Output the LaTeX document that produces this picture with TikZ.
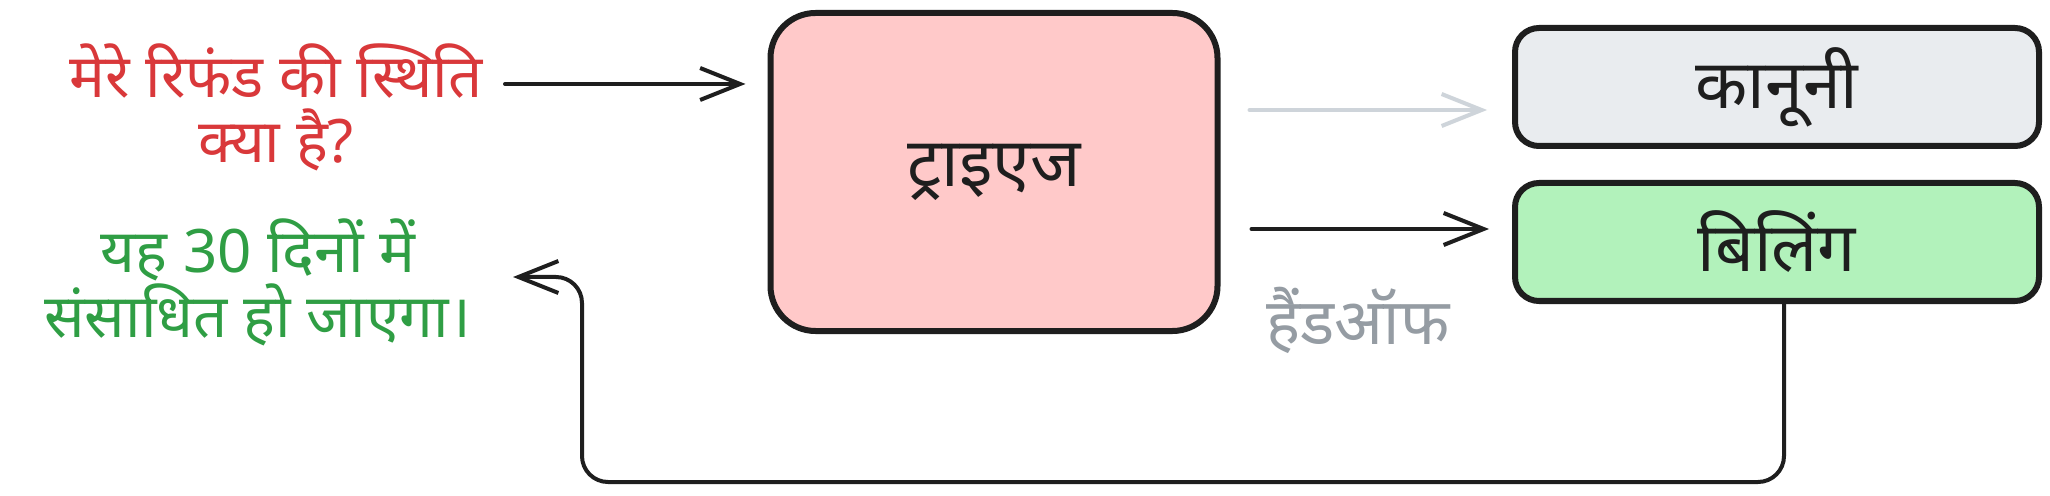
\documentclass[tikz,border=0pt]{standalone}
\usepackage{fontspec}
\newfontfamily\deva[Script=Devanagari]{Noto Sans}
\usetikzlibrary{arrows.meta,calc}
\definecolor{qred}{HTML}{D9383A}
\definecolor{agreen}{HTML}{2F9E44}
\definecolor{tpink}{HTML}{FFC9C9}
\definecolor{lgray}{HTML}{E9ECEF}
\definecolor{bgreen}{HTML}{B2F2BB}
\definecolor{arrgray}{HTML}{CED4DA}
\definecolor{hgray}{HTML}{959CA3}
\definecolor{ink}{HTML}{1E1E1E}
\tikzset{
  box/.style={draw=ink, line width=6bp, text=ink, inner sep=0pt,
    font=\deva\fontsize{68bp}{72bp}\selectfont},
  txt/.style={inner sep=0pt, align=center, font=\deva\fontsize{60bp}{65bp}\selectfont},
  arr/.style={draw=ink, line width=4bp, line cap=round, line join=round,
    -{Straight Barb[length=40bp,width=32bp,line width=4bp]}},
}
\begin{document}
\begin{tikzpicture}[x=1bp,y=-1bp]
\path[use as bounding box, fill=white] (0,0) rectangle (2050,496);
% nodes
\node[txt, text=qred] (q) at (276,107) {मेरे रिफंड की स्थिति\\क्या है?};
\node[txt, text=agreen] (a) at (258,282) {यह 30 दिनों में\\संसाधित हो जाएगा।};
\node[box, fill=tpink, rounded corners=45bp, minimum width=447bp, minimum height=318bp] (triage) at (994,172) {ट्राइएज};
\node[box, fill=lgray, rounded corners=24bp, minimum width=524bp, minimum height=118bp] (legal) at (1777,87) {कानूनी};
\node[box, fill=bgreen, rounded corners=24bp, minimum width=524bp, minimum height=118bp] (billing) at (1777,242) {बिलिंग};
\node[inner sep=0pt, text=hgray, font=\deva\fontsize{64bp}{70bp}\selectfont] (hand) at (1358,320) {हैंडऑफ};
\coordinate (qout) at (505,84);
\coordinate (atip) at (513,277);
\coordinate (turn) at (582,277);
% connectors
\draw[arr] (qout) -- ([xshift=-22bp]triage.west |- qout);
\draw[arr, draw=arrgray] ($(triage.east)+(29,-62)$) -- ($(legal.west)+(-25,23)$);
\draw[arr] ($(triage.east)+(31,57)$) -- ($(billing.west)+(-23,-13)$);
\draw[arr, rounded corners=26bp] ($(billing.south)+(7,0)$) -- ++(0,178) -| (turn) -- (atip);
\end{tikzpicture}
\end{document}
